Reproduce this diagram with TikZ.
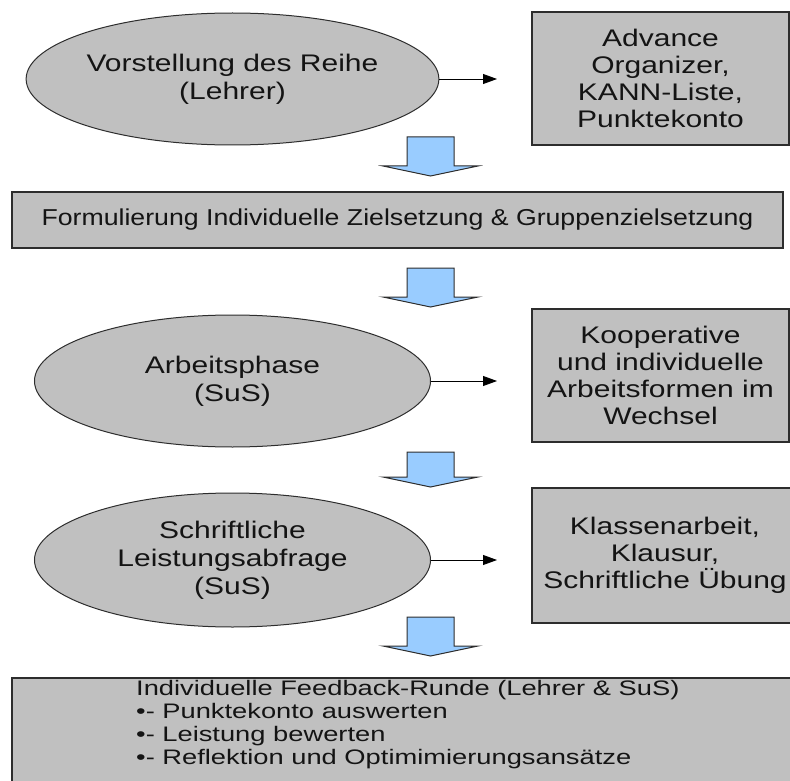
\documentclass[tikz,border=0pt]{standalone}
\usepackage{fontspec}
\setmainfont{Liberation Sans}
\newfontfamily\fwide[FakeStretch=1.25]{Liberation Sans}
\newfontfamily\fmid[FakeStretch=1.16]{Liberation Sans}
\newfontfamily\flong[FakeStretch=1.3]{Liberation Sans}
\usetikzlibrary{shapes.geometric,arrows.meta}
\definecolor{boxgray}{RGB}{192,192,192}
\definecolor{arrowblue}{RGB}{153,204,255}
\definecolor{edgegray}{RGB}{45,45,45}
\definecolor{txt}{RGB}{20,20,20}
\tikzset{
  pics/blockarrow/.style={code={
    \draw[bigarrow] (-23.5,0) -- (23.5,0) -- (23.5,#1) -- (47.5,#1) -- (0,{#1+10}) -- (-47.5,#1) -- (-23.5,#1) -- cycle;
  }}
}
\begin{document}
\begin{tikzpicture}[x=1pt,y=-1pt,
  ell/.style={ellipse,draw=edgegray,fill=boxgray,line width=1pt,minimum width=396pt,minimum height=132pt,inner sep=0pt,align=center,text=txt,font=\fwide\fontsize{24}{28}\selectfont},
  sidebox/.style={rectangle,draw=edgegray,fill=boxgray,line width=1.2pt,inner sep=0pt,align=center,text=txt,font=\fwide\fontsize{24}{27}\selectfont},
  widebox/.style={rectangle,draw=edgegray,fill=boxgray,line width=1.2pt,inner sep=0pt},
  flowarrow/.style={-{Triangle[length=14pt,width=10pt]},line width=0.8pt,draw=black},
  bigarrow/.style={draw=edgegray,fill=arrowblue,line width=1pt,line join=miter},
]
\useasboundingbox (0,0) rectangle (790,781);
\clip (0,0) rectangle (790,781);

% row 1
\node[ell] (e1) at (232.5,79) {Vorstellung des Reihe\\(Lehrer)};
\node[sidebox,minimum width=257pt,minimum height=133pt] (b1) at (660.5,78.5)
  {Advance\\Organizer,\\KANN-Liste,\\Punktekonto};
\coordinate (a1) at (497,79);
\draw[flowarrow] (e1.east) -- (a1);
\pic at (430.5,137) {blockarrow=29};

% row 2
\node[widebox,minimum width=771pt,minimum height=56pt,text=txt,font=\fmid\fontsize{23}{27}\selectfont] (b2) at (397.5,220)
  {Formulierung Individuelle Zielsetzung \& Gruppenzielsetzung};
\pic at (430.5,268) {blockarrow=29};

% row 3
\node[ell] (e2) at (232.5,381) {Arbeitsphase\\(SuS)};
\node[sidebox,minimum width=257pt,minimum height=133pt] (b3) at (660.5,375.5)
  {Kooperative\\und individuelle\\Arbeitsformen im\\Wechsel};
\coordinate (a2) at (497,381);
\draw[flowarrow] (e2.east) -- (a2);
\pic at (430.5,452) {blockarrow=25};

% row 4
\node[ell,minimum height=134pt] (e3) at (232.5,560) {Schriftliche\\Leistungsabfrage\\(SuS)};
\node[sidebox,minimum width=266pt,minimum height=135pt] (b4) at (665,555.5)
  {Klassenarbeit,\\Klausur,\\Schriftliche Übung};
\coordinate (a3) at (497,560);
\draw[flowarrow] (e3.east) -- (a3);
\pic at (430.5,617) {blockarrow=29};

% row 5
\node[widebox,minimum width=788pt,minimum height=120pt] (b5) at (406,738) {};
\node[anchor=north west,align=left,inner sep=0pt,text=txt,font=\flong\fontsize{21}{23}\selectfont] (b5text) at (136,680)
  {Individuelle Feedback-Runde (Lehrer \& SuS)\\
   •- Punktekonto auswerten\\
   •- Leistung bewerten\\
   •- Reflektion und Optimimierungsansätze};
\end{tikzpicture}
\end{document}
